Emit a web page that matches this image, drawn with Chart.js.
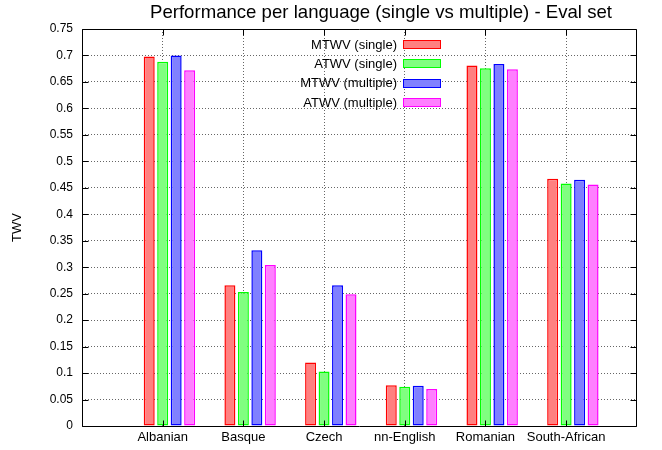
<!DOCTYPE html>
<html>
<head>
<meta charset="utf-8">
<script src="https://cdn.jsdelivr.net/npm/chart.js@4/dist/chart.umd.min.js"></script>
<style>
html,body{margin:0;padding:0;background:#fff;}
#wrap{position:relative;width:662px;height:450px;font-family:"Liberation Sans",Arial,Helvetica,sans-serif;color:#000;}
#c{position:absolute;left:0;top:0;width:662px;height:450px;}
#title{position:absolute;top:2px;left:381px;transform:translateX(-50%);font-size:18.6px;line-height:20px;white-space:nowrap;}
.lg-text{position:absolute;left:200px;width:197px;text-align:right;font-size:13px;line-height:18px;white-space:nowrap;}
.lg-box{position:absolute;left:403px;width:38px;height:9px;box-sizing:border-box;border-style:solid;border-width:1.5px;}
</style>
</head>
<body>
<div id="wrap">
  <canvas id="c" width="662" height="450"></canvas>
  <div id="title">Performance per language (single vs multiple) - Eval set</div>
  <div id="legend"></div>
</div>
<script>
// ---- data ----
const categories = ['Albanian', 'Basque', 'Czech', 'nn-English', 'Romanian', 'South-African'];
const seriesNames = ['MTWV (single)', 'ATWV (single)', 'MTWV (multiple)', 'ATWV (multiple)'];
const mtwvSingle   = [0.698, 0.266, 0.120, 0.077, 0.681, 0.467];
const atwvSingle   = [0.688, 0.253, 0.103, 0.074, 0.676, 0.458];
const mtwvMultiple = [0.700, 0.332, 0.266, 0.076, 0.684, 0.465];
const atwvMultiple = [0.672, 0.304, 0.249, 0.070, 0.674, 0.456];
const yTickLabels  = ['0','0.05','0.1','0.15','0.2','0.25','0.3','0.35','0.4','0.45','0.5','0.55','0.6','0.65','0.7','0.75'];

const fills   = ['#ff8080', '#80ff80', '#8080ff', '#ff80ff'];
const borders = ['#ff0000', '#00ff00', '#0000ff', '#ff00ff'];
const seriesValues = [mtwvSingle, atwvSingle, mtwvMultiple, atwvMultiple];

Chart.defaults.font.family = '"Liberation Sans", Arial, Helvetica, sans-serif';
Chart.defaults.color = '#000';

const datasets = [{
  // empty spacer slot (gnuplot-style offset of the cluster from the tick)
  label: '', data: [], isSpacer: true
}].concat(seriesValues.map((vals, k) => ({
  label: seriesNames[k],
  data: vals.map((v, i) => ({x: i, y: v})),
  backgroundColor: fills[k],
  borderColor: borders[k],
  borderWidth: 1.5,
  borderSkipped: false
})));

const frame = {
  id: 'frame',
  afterDatasetsDraw(chart) {
    const {ctx, chartArea: a, scales: {x, y}} = chart;
    const L = Math.floor(a.left) + 0.5, R = Math.floor(a.right) + 0.5;
    const T = Math.floor(a.top) + 0.5, B = Math.floor(a.bottom) + 0.5;
    ctx.save();
    ctx.strokeStyle = '#000';
    ctx.lineWidth = 1;
    ctx.setLineDash([]);
    ctx.beginPath();
    ctx.rect(L, T, R - L, B - T);
    const tl = 6;
    y.ticks.forEach(t => {
      const py = Math.round(y.getPixelForValue(t.value)) + 0.5;
      ctx.moveTo(L, py); ctx.lineTo(L + tl, py);
      ctx.moveTo(R, py); ctx.lineTo(R - tl, py);
    });
    x.ticks.forEach(t => {
      const px = Math.round(x.getPixelForValue(t.value)) + 0.5;
      ctx.moveTo(px, B); ctx.lineTo(px, B - tl);
      ctx.moveTo(px, T); ctx.lineTo(px, T + tl);
    });
    ctx.stroke();
    ctx.restore();
  }
};

const chart = new Chart(document.getElementById('c'), {
  type: 'bar',
  data: { datasets },
  options: {
    responsive: false,
    animation: false,
    devicePixelRatio: 1,
    categoryPercentage: 0.835,
    barPercentage: 0.815,
    layout: { padding: { left: 0, top: 29, right: 26, bottom: 0 } },
    plugins: {
      legend: { display: false },
      title: { display: false },
      tooltip: { enabled: false }
    },
    scales: {
      x: {
        type: 'linear',
        offset: false,
        min: -1,
        max: 5.866,
        afterBuildTicks: s => {
          s.ticks = categories.map((c, i) => ({value: i}));
        },
        afterFit: s => { s.height = 24; },
        ticks: {
          autoSkip: false,
          maxRotation: 0,
          padding: 4,
          font: { size: 13 },
          callback: v => categories[v] ?? ''
        },
        grid: { color: 'rgba(0,0,0,0.6)', lineWidth: 1, drawTicks: false, offset: false },
        border: { display: false, dash: [1, 2] }
      },
      y: {
        min: 0,
        max: 0.75,
        afterBuildTicks: s => {
          s.ticks = yTickLabels.map(l => ({value: parseFloat(l)}));
        },
        afterFit: s => { s.width = 82; },
        ticks: {
          padding: 9,
          font: { size: 12 },
          callback: (v, i) => yTickLabels[i]
        },
        grid: { color: 'rgba(0,0,0,0.6)', lineWidth: 1, drawTicks: false },
        border: { display: false, dash: [1, 2] },
        title: {
          display: true,
          text: 'TWV',
          font: { size: 13 },
          padding: { top: 10, bottom: 0 }
        }
      }
    }
  },
  plugins: [frame]
});

// HTML legend built from the datasets
const legend = document.getElementById('legend');
chart.data.datasets.filter(d => !d.isSpacer).forEach((d, k) => {
  const cy = 44.5 + k * 19.4;
  const t = document.createElement('div');
  t.className = 'lg-text';
  t.style.top = (cy - 9) + 'px';
  t.textContent = d.label;
  const b = document.createElement('div');
  b.className = 'lg-box';
  b.style.top = (cy - 4.5) + 'px';
  b.style.background = d.backgroundColor;
  b.style.borderColor = d.borderColor;
  legend.appendChild(t);
  legend.appendChild(b);
});
</script>
</body>
</html>
